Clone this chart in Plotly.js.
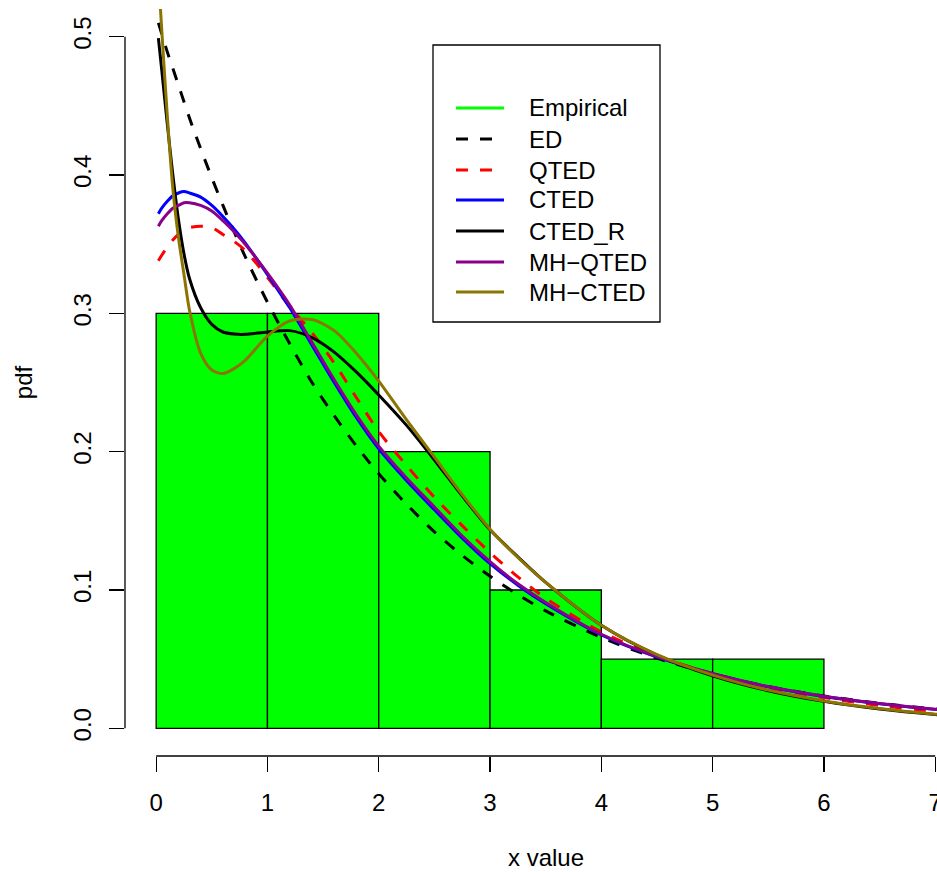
<!DOCTYPE html>
<html>
<head>
<meta charset="utf-8">
<script src="https://cdn.plot.ly/plotly-3.0.1.min.js"></script>
<style>html,body{margin:0;padding:0;background:#fff;overflow:hidden}</style>
</head>
<body>
<div id="chart" style="width:937px;height:872px"></div>
<script>
// Histogram (empirical density)
const binEdges = [0, 1, 2, 3, 4, 5, 6];
const binDensity = [0.30, 0.30, 0.20, 0.10, 0.05, 0.05];

// Common evaluation grid for fitted densities
const xGrid = [0.02, 0.05, 0.1, 0.15, 0.2, 0.25, 0.3, 0.4, 0.5, 0.6, 0.7, 0.8, 1.0, 1.2, 1.4, 1.6, 1.8, 2.0, 2.25, 2.5, 2.75, 3.0, 3.25, 3.5, 4.0, 4.5, 5.0, 5.5, 6.0, 6.5, 7.0, 7.3];

const yED = [0.510, 0.502, 0.489, 0.477, 0.465, 0.453, 0.441, 0.419, 0.398, 0.378, 0.359, 0.341, 0.308, 0.278, 0.250, 0.226, 0.204, 0.184, 0.162, 0.142, 0.125, 0.110, 0.0966, 0.0849, 0.0657, 0.0507, 0.0392, 0.0303, 0.0234, 0.0181, 0.0140, 0.0120];
const yQTED = [0.338, 0.342, 0.348, 0.353, 0.357, 0.360, 0.362, 0.363, 0.362, 0.357, 0.352, 0.3455, 0.326, 0.305, 0.286, 0.264, 0.239, 0.2145, 0.190, 0.167, 0.1465, 0.127, 0.1095, 0.094, 0.0697, 0.0525, 0.0395, 0.0295, 0.0222, 0.0165, 0.0122, 0.0102];
const yCTED = [0.372, 0.376, 0.381, 0.385, 0.387, 0.388, 0.387, 0.384, 0.378, 0.370, 0.361, 0.351, 0.328, 0.304, 0.277, 0.250, 0.2245, 0.202, 0.179, 0.158, 0.1375, 0.119, 0.1035, 0.090, 0.0675, 0.0515, 0.0395, 0.0300, 0.0230, 0.0178, 0.0137, 0.0117];
const yCTED_R = [0.499, 0.476, 0.437, 0.400, 0.368, 0.343, 0.325, 0.304, 0.292, 0.2865, 0.285, 0.2848, 0.2865, 0.2875, 0.2825, 0.272, 0.2575, 0.241, 0.219, 0.194, 0.168, 0.1435, 0.124, 0.1055, 0.0745, 0.0530, 0.0380, 0.0272, 0.0195, 0.0140, 0.0100, 0.0082];
const yMH_QTED = [0.363, 0.367, 0.372, 0.376, 0.378, 0.380, 0.380, 0.378, 0.374, 0.367, 0.359, 0.350, 0.329, 0.306, 0.279, 0.252, 0.2265, 0.204, 0.181, 0.160, 0.139, 0.1205, 0.1045, 0.091, 0.068, 0.0518, 0.0397, 0.0302, 0.0232, 0.0179, 0.0138, 0.0118];
const yMH_CTED = [0.545, 0.505, 0.443, 0.390, 0.355, 0.328, 0.302, 0.271, 0.259, 0.2565, 0.260, 0.266, 0.2835, 0.2945, 0.2955, 0.2875, 0.271, 0.251, 0.223, 0.196, 0.169, 0.1440, 0.1235, 0.1055, 0.0745, 0.0533, 0.0385, 0.0276, 0.0198, 0.0143, 0.0102, 0.0085];

const legendLabels = ["Empirical", "ED", "QTED", "CTED", "CTED_R", "MH\u2212QTED", "MH\u2212CTED"];
const xTicks = [0, 1, 2, 3, 4, 5, 6, 7];
const yTicks = [0.0, 0.1, 0.2, 0.3, 0.4, 0.5];
const yTickText = ["0.0", "0.1", "0.2", "0.3", "0.4", "0.5"];

// styles
const FONT = "'Liberation Sans', Arial, Helvetica, sans-serif";
const FS = 24;
const series = [
  {name: "ED", y: yED, color: "#000000", dash: "12px,12px"},
  {name: "QTED", y: yQTED, color: "#FF0000", dash: "12px,12px"},
  {name: "CTED", y: yCTED, color: "#0000FF", dash: "solid"},
  {name: "CTED_R", y: yCTED_R, color: "#000000", dash: "solid"},
  {name: "MH\u2212QTED", y: yMH_QTED, color: "#8B008B", dash: "solid"},
  {name: "MH\u2212CTED", y: yMH_CTED, color: "#8B7500", dash: "solid"}
];
const legendStyles = [
  {color: "#00FF00", dash: "solid"},
  {color: "#000000", dash: "12px,12px"},
  {color: "#FF0000", dash: "12px,12px"},
  {color: "#0000FF", dash: "solid"},
  {color: "#000000", dash: "solid"},
  {color: "#8B008B", dash: "solid"},
  {color: "#8B7500", dash: "solid"}
];

const binMid = binDensity.map((_, i) => (binEdges[i] + binEdges[i + 1]) / 2);
const binWidth = binDensity.map((_, i) => binEdges[i + 1] - binEdges[i]);

const traces = [{
  type: "bar", x: binMid, y: binDensity, width: binWidth,
  marker: {color: "#00FF00", line: {color: "#000000", width: 1.3}},
  name: "Empirical", showlegend: false, hoverinfo: "x+y"
}];
series.forEach(s => traces.push({
  type: "scatter", mode: "lines", x: xGrid, y: s.y, name: s.name, showlegend: false,
  line: {color: s.color, width: 3, dash: s.dash, shape: "spline", smoothing: 0.8}
}));

// pixel geometry helpers
const ML = 125, MT = 9, PW = 812, PH = 747;
const px = p => (p - ML) / PW;
const py = p => (MT + PH - p) / PH;

const shapes = [
  {type: "line", xref: "x", yref: "paper", x0: xTicks[0], x1: xTicks[xTicks.length - 1], y0: 0, y1: 0, line: {color: "#000", width: 1.3}},
  {type: "line", xref: "paper", yref: "y", x0: 0, x1: 0, y0: yTicks[0], y1: yTicks[yTicks.length - 1], line: {color: "#000", width: 1.3}},
  {type: "rect", xref: "paper", yref: "paper", x0: px(433), x1: px(660), y0: py(322), y1: py(45), line: {color: "#000", width: 1.3}, fillcolor: "rgba(255,255,255,0)"}
];
const annotations = [
  {text: "x value", xref: "x", yref: "paper", x: 3.5, y: py(858), xanchor: "center", yanchor: "middle", showarrow: false, font: {family: FONT, size: FS, color: "#000"}}
];
const entryY = [108, 139, 170, 200, 231, 262, 292];
legendLabels.forEach((lab, i) => {
  shapes.push({type: "line", xref: "paper", yref: "paper", x0: px(456), x1: px(504), y0: py(entryY[i]), y1: py(entryY[i]),
    line: {color: legendStyles[i].color, width: 3, dash: legendStyles[i].dash}});
  annotations.push({text: lab, xref: "paper", yref: "paper", x: px(527), y: py(entryY[i]), xanchor: "left", yanchor: "middle",
    showarrow: false, font: {family: FONT, size: FS, color: "#000"}});
});

const layout = {
  width: 937, height: 872,
  margin: {l: ML, r: 0, t: MT, b: 872 - MT - PH, pad: 0},
  paper_bgcolor: "#fff", plot_bgcolor: "#fff",
  font: {family: FONT, size: FS, color: "#000"},
  showlegend: false, bargap: 0,
  xaxis: {range: [-0.28, 7.016], tickvals: xTicks, ticktext: xTicks.map(String), ticks: "outside", ticklen: 15, tickwidth: 1.3, tickcolor: "#000",
    showline: false, showgrid: false, zeroline: false, automargin: false, ticklabelstandoff: 10, ticklabeloverflow: "allow", tickfont: {family: FONT, size: FS}},
  yaxis: {range: [-0.02, 0.52], tickvals: yTicks, ticktext: yTickText, ticks: "outside", ticklen: 15, tickwidth: 1.3, tickcolor: "#000", tickangle: -90,
    showline: false, showgrid: false, zeroline: false, automargin: false, ticklabelstandoff: 8, tickfont: {family: FONT, size: FS},
    title: {text: "pdf", standoff: 30, font: {family: FONT, size: FS}}},
  shapes: shapes, annotations: annotations
};

Plotly.newPlot("chart", traces, layout, {displayModeBar: false, staticPlot: true});
</script>
</body>
</html>
